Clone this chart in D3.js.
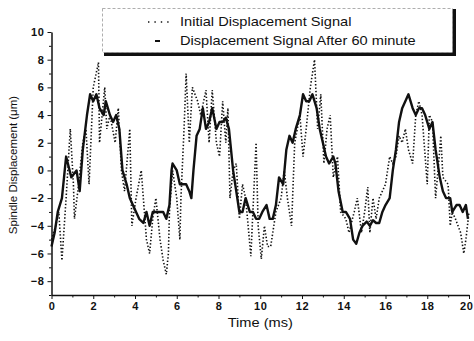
<!DOCTYPE html>
<html>
<head>
<meta charset="utf-8">
<script src="https://cdn.jsdelivr.net/npm/d3@7"></script>
<style>
  body { margin: 0; background: #fff; }
  svg { font-family: "Liberation Sans", Arial, sans-serif; }
  .axis path, .axis line { stroke: #111; }
  .axis text { fill: #111; font-size: 11px; font-weight: bold; letter-spacing: 0.6px; }
</style>
</head>
<body>
<div id="chart"></div>
<script>
// series: [time (ms), displacement (um)]
const initialSignal = [
  [0, -5], [0.2, -4], [0.35, -3], [0.5, -6.5], [0.7, -2], [0.9, 3], [1.05, -1], [1.1, -3.5],
  [1.3, -1], [1.5, 2], [1.65, 3], [1.8, -1], [2.0, 6], [2.25, 7.8], [2.3, 2], [2.55, 6],
  [2.65, 3], [2.8, 4], [3.05, 2], [3.2, 4.5], [3.35, 0], [3.5, -1.5], [3.75, 3], [3.85, -4],
  [4.05, -2], [4.3, 0], [4.55, -5], [4.7, -6], [4.85, -3.5], [5.0, -2], [5.2, -5], [5.35, -6.5],
  [5.5, -7.5], [5.6, -6], [5.65, -3], [5.8, 0], [6.0, -2], [6.15, -5], [6.2, -2], [6.35, 3],
  [6.45, 7], [6.6, 2], [6.75, 6], [7.0, 5], [7.15, 4], [7.4, 5.8], [7.55, 2], [7.7, 5.8],
  [7.9, 2], [8.05, 1], [8.2, 5], [8.35, 2], [8.45, 4.5], [8.55, -2], [8.7, 0], [8.85, 0.5],
  [9.0, -3.5], [9.15, -1], [9.3, -2], [9.55, -6.2], [9.8, 2], [9.9, -4], [10.05, -6.4], [10.2, -4],
  [10.35, -5.5], [10.5, -5.5], [10.75, -3], [11.0, -2], [11.15, 0], [11.3, -2], [11.5, -4], [11.65, 2],
  [11.9, 4], [12.05, 1], [12.2, 3], [12.4, 6], [12.6, 8], [12.75, 3], [12.9, 5.5], [13.05, 0.5],
  [13.2, 3], [13.35, 4], [13.5, -0.5], [13.7, 1], [13.85, -3], [14.1, -3.5], [14.25, -4.5], [14.5, -3],
  [14.65, -2], [14.85, -4.5], [15.0, -3], [15.15, -1.2], [15.25, -4.5], [15.4, -2], [15.55, -3.5], [15.7, -2],
  [16.0, -1], [16.2, 1], [16.35, 0.5], [16.5, 1], [16.65, 2.5], [16.8, 2], [16.95, 3], [17.1, 1.5],
  [17.3, 0.5], [17.45, 4], [17.6, 5], [17.75, 4], [18.0, -1], [18.1, 4], [18.25, 3.5], [18.4, -2],
  [18.6, 1.5], [18.65, 2.5], [18.75, -0.5], [19.0, -1], [19.1, -4], [19.2, -3], [19.35, -3.5], [19.6, -4.5],
  [19.75, -6], [19.85, -5], [20, -3]
];
const afterSignal = [
  [0, -5.5], [0.15, -4.5], [0.3, -3], [0.5, -2], [0.7, 1], [0.95, -0.5], [1.2, 0], [1.35, -1.5],
  [1.5, 1.5], [1.7, 4], [1.85, 5.5], [2.0, 5], [2.15, 5.5], [2.3, 4.5], [2.5, 4], [2.6, 5],
  [2.8, 4], [2.95, 3.5], [3.1, 4], [3.25, 3], [3.4, 0], [3.6, -1], [3.75, -2], [3.9, -2.5],
  [4.05, -3], [4.2, -3.5], [4.4, -3.8], [4.55, -3], [4.7, -4], [4.85, -3], [5.0, -3], [5.2, -3],
  [5.35, -3], [5.5, -3.5], [5.65, -2.5], [5.75, 0], [5.8, 0.5], [6.0, 0], [6.15, -1], [6.3, -1],
  [6.45, -1], [6.6, -1.5], [6.7, -2], [6.8, 0], [6.95, 2.5], [7.1, 3], [7.25, 4.5], [7.4, 3],
  [7.55, 3.5], [7.7, 4.5], [7.9, 3], [8.05, 3.5], [8.2, 3.5], [8.35, 3.8], [8.5, 3], [8.7, 0],
  [8.85, -1.5], [9.0, -3], [9.15, -3], [9.3, -2], [9.5, -3], [9.65, -3], [9.8, -3.5], [9.95, -3.5],
  [10.1, -3], [10.3, -2.5], [10.45, -3.5], [10.6, -3.5], [10.75, -2.5], [10.9, -0.5], [11.1, -1], [11.25, 1.5],
  [11.4, 2.5], [11.55, 2], [11.7, 3], [11.9, 4], [12.05, 5.5], [12.2, 5], [12.35, 5], [12.5, 5.5],
  [12.7, 4.5], [12.85, 3], [13.0, 2], [13.15, 1], [13.3, 0.5], [13.5, 1], [13.6, 0.5], [13.75, -1.5],
  [13.95, -3], [14.1, -3], [14.3, -3.5], [14.45, -5], [14.6, -5.3], [14.75, -4.5], [14.9, -4], [15.1, -3.7],
  [15.25, -4], [15.4, -3.6], [15.55, -3.8], [15.7, -3.8], [15.85, -3], [16.0, -2.5], [16.2, -2], [16.35, 0],
  [16.5, 1.5], [16.65, 3.5], [16.8, 4.5], [16.95, 5], [17.1, 5.5], [17.3, 4.5], [17.45, 4], [17.6, 4.5],
  [17.75, 4.5], [17.9, 4], [18.1, 3], [18.25, 3.5], [18.4, 1.5], [18.6, -0.5], [18.75, -1.5], [18.9, -2],
  [19.1, -2], [19.2, -3], [19.4, -2.5], [19.55, -2.5], [19.7, -3], [19.85, -2.5], [19.95, -3.5]
];
const seriesNames = ["Initial Displacement Signal", "Displacement Signal After 60 minute"];
const xMajorTicks = [0, 2, 4, 6, 8, 10, 12, 14, 16, 18, 20];
const xMinorTicks = [1, 3, 5, 7, 9, 11, 13, 15, 17, 19];
const yMajorTicks = [-8, -6, -4, -2, 0, 2, 4, 6, 8, 10];
const yMinorTicks = [-9, -7, -5, -3, -1, 1, 3, 5, 7, 9];

const width = 474, height = 341;
const margin = { top: 32, right: 5, bottom: 46, left: 51.5 };
const stretch = 1.17; // the scan is wider than tall, horizontal text looks stretched

const svg = d3.select("#chart").append("svg")
  .attr("width", width)
  .attr("height", height);

const x = d3.scaleLinear().domain([0, 20]).range([margin.left, width - margin.right]);
const y = d3.scaleLinear().domain([-9, 10]).range([height - margin.bottom, margin.top]);

// axes
svg.append("g").attr("class", "axis")
  .attr("transform", "translate(0," + y(-9) + ")")
  .call(d3.axisBottom(x).tickValues(xMajorTicks).tickSize(4).tickPadding(3).tickSizeOuter(0))
  .call(g => g.select(".domain").attr("stroke-width", 1.5))
  // last label sits on the right edge, keep it inside the window
  .call(g => g.selectAll(".tick text").filter(d => d === 20)
    .attr("text-anchor", "end").attr("x", 4));
svg.append("g").attr("class", "axis")
  .attr("transform", "translate(0," + y(-9) + ")")
  .call(d3.axisBottom(x).tickValues(xMinorTicks).tickSize(2.5).tickFormat("").tickSizeOuter(0))
  .call(g => g.select(".domain").remove());

svg.append("g").attr("class", "axis")
  .attr("transform", "translate(" + x(0) + ",0)")
  .call(d3.axisLeft(y).tickValues(yMajorTicks).tickSize(4).tickPadding(3).tickSizeOuter(0))
  .call(g => g.select(".domain").attr("stroke-width", 1.5));
svg.append("g").attr("class", "axis")
  .attr("transform", "translate(" + x(0) + ",0)")
  .call(d3.axisLeft(y).tickValues(yMinorTicks).tickSize(2.5).tickFormat("").tickSizeOuter(0))
  .call(g => g.select(".domain").remove());

// axis titles
svg.append("text")
  .attr("transform", "translate(" + (x(0) + x(20)) / 2 + ",327) scale(" + stretch + ",1)")
  .attr("text-anchor", "middle")
  .style("font-size", "12.5px")
  .style("fill", "#111")
  .text("Time (ms)");

svg.append("text")
  .attr("transform", "translate(17,165) rotate(-90)")
  .attr("text-anchor", "middle")
  .style("font-size", "11.5px")
  .style("fill", "#111")
  .text("Spindle Displacement (\u03bcm)");

// lines
const line = d3.line()
  .x(d => x(d[0]))
  .y(d => y(d[1]));

svg.append("path")
  .datum(afterSignal)
  .attr("fill", "none")
  .attr("stroke", "#111")
  .attr("stroke-width", 2.4)
  .attr("stroke-linejoin", "round")
  .attr("d", line);

svg.append("path")
  .datum(initialSignal)
  .attr("fill", "none")
  .attr("stroke", "#111")
  .attr("stroke-width", 1.6)
  .attr("stroke-dasharray", "1.4,2")
  .attr("d", line);

// legend
const lg = svg.append("g");
lg.append("rect")
  .attr("x", 104).attr("y", 51)
  .attr("width", 352).attr("height", 5)
  .attr("fill", "#111");
lg.append("rect")
  .attr("x", 451).attr("y", 9)
  .attr("width", 5).attr("height", 47)
  .attr("fill", "#111");
lg.append("rect")
  .attr("x", 102.5).attr("y", 8.5)
  .attr("width", 350).attr("height", 44)
  .attr("fill", "#fff")
  .attr("stroke", "#999")
  .attr("stroke-width", 0.8)
  .attr("stroke-dasharray", "3,2");

lg.append("line")
  .attr("x1", 148).attr("x2", 170).attr("y1", 22).attr("y2", 22)
  .attr("stroke", "#111").attr("stroke-width", 1.6)
  .attr("stroke-dasharray", "1.4,5");
lg.append("line")
  .attr("x1", 155).attr("x2", 160).attr("y1", 41).attr("y2", 41)
  .attr("stroke", "#111").attr("stroke-width", 2);

lg.selectAll("text.legend")
  .data(seriesNames)
  .enter().append("text")
  .attr("class", "legend")
  .attr("transform", (d, i) => "translate(180," + (26 + i * 19) + ") scale(" + stretch + ",1)")
  .style("font-size", "12.5px")
  .style("fill", "#111")
  .text(d => d);
</script>
</body>
</html>
